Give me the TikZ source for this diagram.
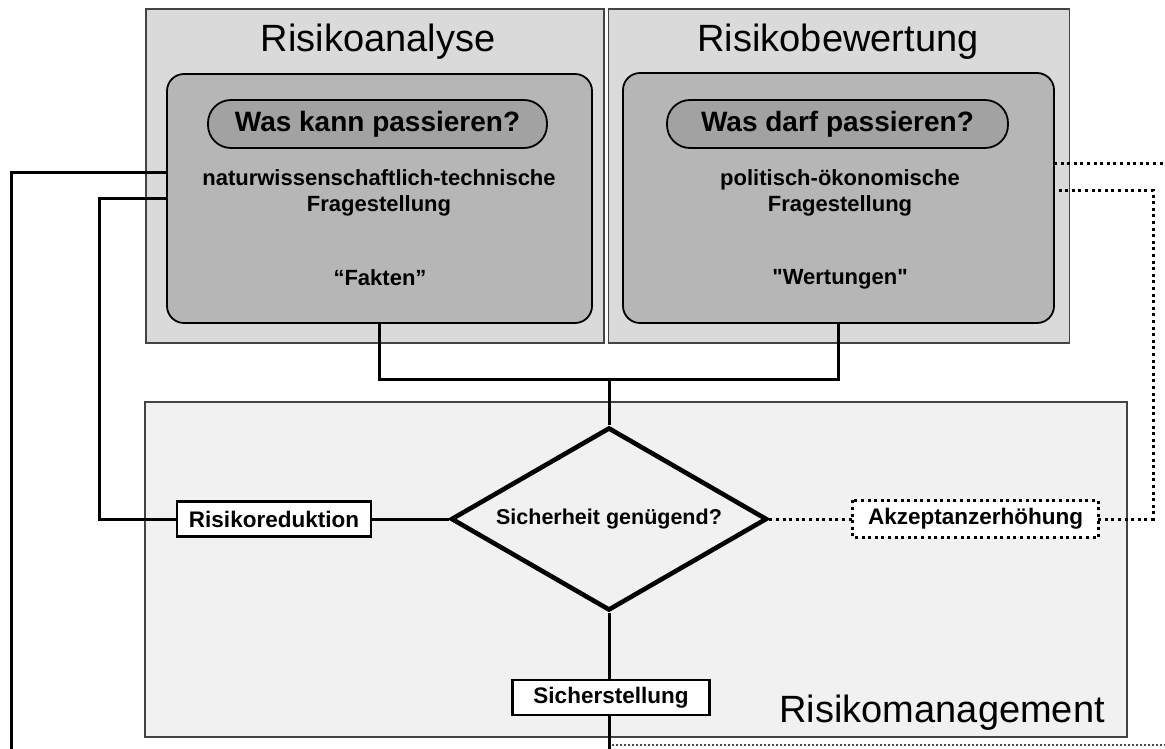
\documentclass[tikz,border=0pt]{standalone}
\usepackage{fontspec}
\setmainfont{Liberation Sans}[Ligatures=TeXOff]
\usetikzlibrary{shapes.geometric}
\definecolor{outerfill}{HTML}{DADADA}
\definecolor{innerfill}{HTML}{B6B6B6}
\definecolor{pillfill}{HTML}{A2A2A2}
\definecolor{mgmtfill}{HTML}{F1F1F1}
\definecolor{edgegrey}{HTML}{444444}
\tikzset{
  outerbox/.style={draw=edgegrey, line width=1.8pt, fill=outerfill, inner sep=0pt},
  innerbox/.style={draw=black, line width=1.8pt, fill=innerfill, rounded corners=17pt, inner sep=0pt},
  pillbox/.style={draw=black, line width=1.8pt, fill=pillfill, rounded corners=23pt, inner sep=0pt, font=\fontsize{28}{30}\selectfont\bfseries},
  titletext/.style={font=\fontsize{38}{40}\selectfont, inner sep=0pt},
  bodytext/.style={font=\fontsize{22}{26}\selectfont\bfseries, align=center, inner sep=0pt},
  smallbox/.style={draw=black, line width=2.4pt, fill=white, minimum height=35pt, inner sep=0pt, font=\fontsize{22.5}{24}\selectfont\bfseries},
  conn/.style={draw=black, line width=3pt},
  dotconn/.style={draw=black, line width=3pt, dash pattern=on 3pt off 3.6pt},
  thindot/.style={draw=black!70, line width=1.3pt, dash pattern=on 1.5pt off 2.5pt},
}
\begin{document}
\begin{tikzpicture}[x=1pt,y=-1pt]
\useasboundingbox[fill=white] (0,0) rectangle (1165,749);
% top boxes
\node[outerbox, minimum width=458pt, minimum height=334pt] (anaOut) at (375,176) {};
\node[outerbox, minimum width=461pt, minimum height=334pt] (bewOut) at (839,176) {};
\node[titletext] (anaT) at (378,42) {Risikoanalyse};
\node[titletext] (bewT) at (838,42) {Risikobewertung};
\node[innerbox, minimum width=425pt, minimum height=249pt] (anaIn) at (379.5,198.5) {};
\node[innerbox, minimum width=431pt, minimum height=250pt] (bewIn) at (838.5,198) {};
\node[pillbox, minimum width=339pt, minimum height=48pt] (anaP) at (377.5,124) {Was kann passieren?};
\node[pillbox, minimum width=341pt, minimum height=48pt] (bewP) at (837.5,124) {Was darf passieren?};
\node[bodytext] (anaQ) at (379,193) {naturwissenschaftlich-technische\\Fragestellung};
\node[bodytext] (bewQ) at (840,193) {politisch-ökonomische\\Fragestellung};
\node[bodytext] (anaF) at (380,278) {“Fakten”};
\node[bodytext] (bewF) at (840,279) {"Wertungen"};
% management box
\node[outerbox, fill=mgmtfill, minimum width=982pt, minimum height=335pt] (mgmt) at (636,569.5) {};
\node[titletext, anchor=base east] (mgmtT) at (1105,722) {Risikomanagement};
% decision
\node[diamond, aspect=1.727, draw=black, line width=4.6pt, fill=mgmtfill, minimum width=316pt, minimum height=183pt, inner sep=0pt, font=\fontsize{21.5}{24}\selectfont\bfseries] (dia) at (609,519) {Sicherheit genügend?};
\node[smallbox, minimum width=194pt] (red) at (274,519) {Risikoreduktion};
\node[smallbox, draw=none, minimum width=243pt] (akz) at (975.5,519) {Akzeptanzerhöhung};
\draw[dotconn] (akz.north west) rectangle (akz.south east);
\node[smallbox, minimum width=197pt] (sich) at (611,697.5) {Sicherstellung};
% coordinates
\coordinate (j) at (609,379);
\coordinate (a1) at (167,173);
\coordinate (a2) at (167,198);
\coordinate (k1) at (11,173);
\coordinate (kb) at (11,749);
\coordinate (k2) at (99,198);
\coordinate (b2) at (609,749);
\coordinate (r1) at (1054,164);
\coordinate (r1e) at (1165,164);
\coordinate (r2) at (1054,190);
\coordinate (r2c) at (1153,190);
\coordinate (r3) at (1153,519);
\coordinate (d1) at (612,745);
\coordinate (d2) at (1165,745);
% connectors
\draw[conn] (anaIn.south) |- (j) -| (bewIn.south);
\draw[conn] (j) -- (dia.north);
\draw[conn] (dia.west) -- (red.east);
\draw[conn] (red.west) -| (k2) -- (a2);
\draw[conn] (a1) -- (k1) -- (kb);
\draw[conn] (dia.south) -- (dia.south |- sich.north);
\draw[conn] (dia.south |- sich.south) -- (b2);
\draw[dotconn] (dia.east) -- (akz.west);
\draw[dotconn] (akz.east) -- (r3) -- (r2c) -- (r2);
\draw[dotconn] (r1) -- (r1e);
\draw[thindot] (d1) -- (d2);
\end{tikzpicture}
\end{document}
